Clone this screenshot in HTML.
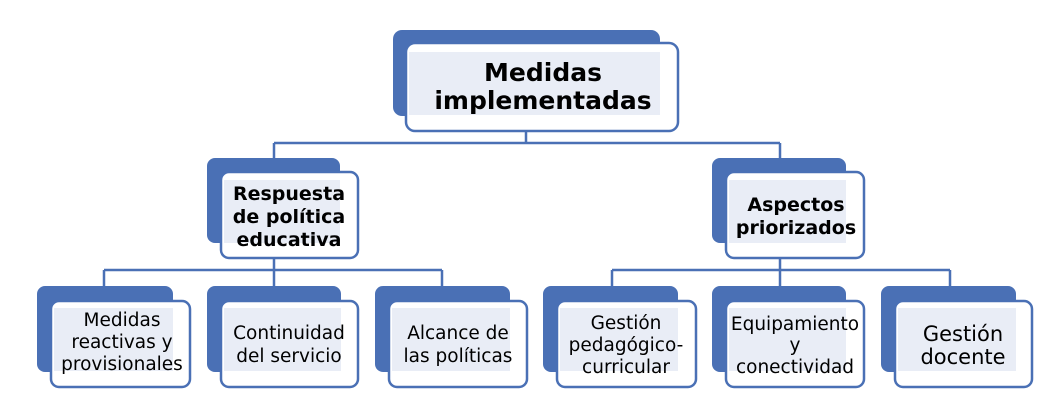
<!DOCTYPE html>
<html><head><meta charset="utf-8"><style>
html,body{margin:0;padding:0;background:#fff;}
svg{display:block;font-family:"DejaVu Sans","Liberation Sans",sans-serif;}
</style></head><body>
<svg width="1060" height="412" viewBox="0 0 1060 412" xmlns="http://www.w3.org/2000/svg">
<g stroke="#4a70b5" stroke-width="2.5" fill="none">
<path d="M526 131 V143 M274 143 H780 M274 143 V158 M780 143 V158"/>
<path d="M274 258 V270 M104 270 H442 M104 270 V287 M274 270 V287 M442 270 V287"/>
<path d="M780 258 V270 M612 270 H950 M612 270 V287 M780 270 V287 M950 270 V287"/>
</g>
<rect x="393" y="30" width="267" height="86" rx="9" fill="#4a70b5"/>
<rect x="406" y="43" width="272" height="88" rx="9" fill="#fff" stroke="#4a70b5" stroke-width="2.5"/>
<rect x="409" y="52" width="251" height="63" fill="#e9edf6"/>
<text x="543" y="81" font-size="25" font-weight="bold" text-anchor="middle">Medidas</text>
<text x="543" y="109" font-size="25" font-weight="bold" text-anchor="middle">implementadas</text>

<rect x="207" y="158" width="133" height="85" rx="8" fill="#4a70b5"/>
<rect x="221" y="172" width="137" height="86" rx="8" fill="#fff" stroke="#4a70b5" stroke-width="2.5"/>
<rect x="224" y="180" width="116" height="63" fill="#e9edf6"/>
<g font-size="19" font-weight="bold" text-anchor="middle"><text x="289" y="200">Respuesta</text><text x="289" y="223">de política</text><text x="289" y="246">educativa</text></g>
<rect x="712" y="158" width="134" height="85" rx="8" fill="#4a70b5"/>
<rect x="726" y="172" width="138" height="86" rx="8" fill="#fff" stroke="#4a70b5" stroke-width="2.5"/>
<rect x="729" y="180" width="117" height="63" fill="#e9edf6"/>
<g font-size="19" font-weight="bold" text-anchor="middle"><text x="796" y="211">Aspectos</text><text x="796" y="234">priorizados</text></g>

<g fill="#4a70b5">
<rect x="37" y="286" width="136" height="86" rx="8"/>
<rect x="207" y="286" width="134" height="86" rx="8"/>
<rect x="375" y="286" width="135" height="86" rx="8"/>
<rect x="543" y="286" width="135" height="86" rx="8"/>
<rect x="712" y="286" width="134" height="86" rx="8"/>
<rect x="881" y="286" width="135" height="86" rx="8"/>
</g>
<g fill="#fff" stroke="#4a70b5" stroke-width="2.5">
<rect x="51" y="301" width="139" height="86" rx="8"/>
<rect x="221" y="301" width="137" height="86" rx="8"/>
<rect x="389" y="301" width="138" height="86" rx="8"/>
<rect x="557" y="301" width="139" height="86" rx="8"/>
<rect x="726" y="301" width="138" height="86" rx="8"/>
<rect x="895" y="301" width="137" height="86" rx="8"/>
</g>
<g fill="#e9edf6">
<rect x="54" y="308" width="119" height="63"/>
<rect x="224" y="308" width="117" height="63"/>
<rect x="392" y="308" width="118" height="63"/>
<rect x="560" y="308" width="118" height="63"/>
<rect x="729" y="308" width="117" height="63"/>
<rect x="898" y="308" width="118" height="63"/>
</g>
<g font-size="18.5" text-anchor="middle" fill="#000">
<text x="122" y="326">Medidas</text><text x="122" y="348">reactivas y</text><text x="122" y="370">provisionales</text>
<text x="289" y="339">Continuidad</text><text x="289" y="362">del servicio</text>
<text x="458" y="339">Alcance de</text><text x="458" y="362">las políticas</text>
<text x="626" y="329">Gestión</text><text x="626" y="351">pedagógico-</text><text x="626" y="373">curricular</text>
<text x="795" y="330">Equipamiento</text><text x="795" y="351">y</text><text x="795" y="373">conectividad</text>
</g>
<g font-size="21" text-anchor="middle"><text x="963" y="341">Gestión</text><text x="963" y="364">docente</text></g>
</svg>
</body></html>
